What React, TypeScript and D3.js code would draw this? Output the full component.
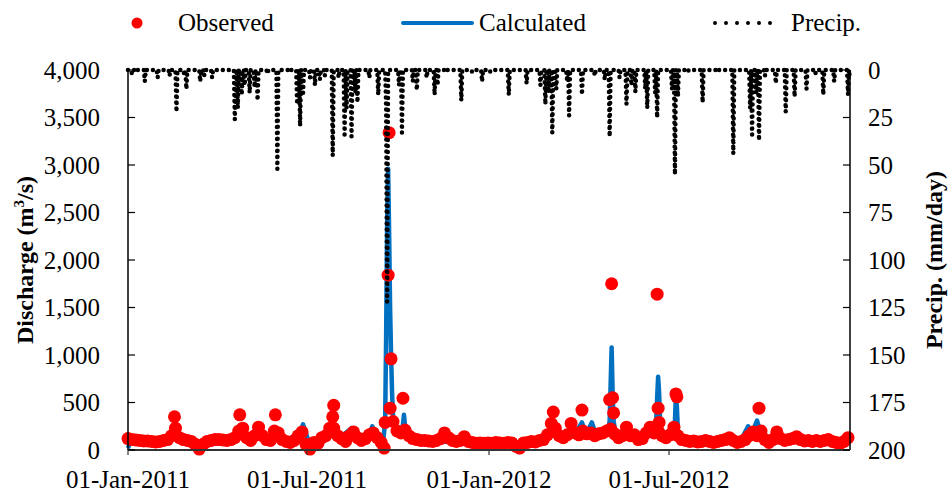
import React from "react";
import * as d3 from "d3";

const parse = d3.timeParse("%Y-%m-%d");

// daily precipitation events (mm/day); days not listed had no rain
const precipEvents: [string, number][] = [
  ["2011-01-05", 2], ["2011-01-10", 1], ["2011-01-18", 6], ["2011-01-31", 4],
  ["2011-02-12", 3], ["2011-02-19", 22], ["2011-02-27", 3], ["2011-03-01", 10],
  ["2011-03-15", 6], ["2011-03-19", 3], ["2011-03-27", 4], ["2011-04-19", 26],
  ["2011-04-22", 20], ["2011-04-26", 13], ["2011-04-29", 8], ["2011-05-04", 12],
  ["2011-05-09", 9], ["2011-05-12", 16], ["2011-05-22", 2], ["2011-06-01", 52],
  ["2011-06-14", 1], ["2011-06-21", 18], ["2011-06-24", 29.5], ["2011-06-27", 12],
  ["2011-07-04", 4], ["2011-07-09", 8], ["2011-07-14", 5], ["2011-07-19", 3],
  ["2011-07-27", 45], ["2011-08-02", 4], ["2011-08-08", 34], ["2011-08-10", 20],
  ["2011-08-15", 35], ["2011-08-19", 12], ["2011-08-21", 17], ["2011-09-02", 4],
  ["2011-09-11", 13], ["2011-09-19", 20], ["2011-09-20", 122], ["2011-10-02", 8],
  ["2011-10-05", 33], ["2011-10-16", 6], ["2011-10-20", 10.5], ["2011-10-30", 4],
  ["2011-11-07", 13], ["2011-11-10", 8], ["2011-11-19", 1], ["2011-12-04", 16],
  ["2011-12-15", 1], ["2011-12-25", 6], ["2012-01-02", 1], ["2012-01-21", 13],
  ["2012-02-08", 7], ["2012-02-22", 8], ["2012-02-27", 18], ["2012-03-01", 12],
  ["2012-03-05", 33], ["2012-03-09", 10], ["2012-03-20", 6], ["2012-03-22", 24],
  ["2012-04-04", 13], ["2012-04-17", 3], ["2012-04-27", 5], ["2012-05-02", 35],
  ["2012-05-12", 4], ["2012-05-19", 18], ["2012-05-24", 8], ["2012-05-28", 11.5],
  ["2012-06-07", 10], ["2012-06-09", 20], ["2012-06-17", 12], ["2012-06-19", 25],
  ["2012-07-04", 10], ["2012-07-07", 55], ["2012-07-10", 14], ["2012-07-20", 1],
  ["2012-08-04", 17], ["2012-08-18", 1], ["2012-09-04", 44], ["2012-09-21", 20],
  ["2012-09-23", 34], ["2012-09-27", 12], ["2012-09-30", 37], ["2012-10-06", 3],
  ["2012-10-17", 7], ["2012-10-27", 22], ["2012-11-05", 14], ["2012-11-17", 10],
  ["2012-11-26", 2], ["2012-12-04", 13], ["2012-12-15", 6], ["2012-12-29", 13],
  ["2012-12-31", 5],
];

// observed discharge (m3/s), sampled every 4 days from 01-Jan-2011
const obsStart = "2011-01-01";
const obsStepDays = 4;
const observedQ = [
  120, 110, 105, 100, 95, 95, 90, 85, 90, 100,
  110, 150, 230, 130, 110, 100, 90, 60, 10, 60,
  90, 100, 110, 110, 105, 100, 110, 130, 200, 230,
  130, 100, 150, 240, 150, 110, 100, 200, 180, 110,
  90, 80, 100, 150, 190, 60, 10, 80, 70, 130,
  150, 230, 230, 150, 120, 90, 150, 190, 130, 100,
  120, 160, 180, 130, 80, 290, 3340, 300, 200, 180,
  210, 150, 120, 110, 100, 100, 95, 90, 100, 120,
  180, 130, 100, 90, 100, 140, 90, 80, 70, 75,
  70, 75, 70, 80, 75, 70, 80, 75, 40, 20,
  75, 80, 90, 85, 100, 110, 160, 280, 230, 150,
  130, 160, 280, 180, 160, 200, 170, 180, 150, 170,
  180, 200, 220, 170, 130, 150, 240, 150, 160, 110,
  120, 180, 240, 180, 200, 150, 130, 160, 240, 150,
  110, 100, 90, 95, 85, 90, 100, 90, 80, 90,
  100, 110, 130, 100, 80, 90, 110, 150, 190, 150,
  200, 110, 80, 110, 190, 120, 100, 110, 120, 140,
  110, 95, 100, 90, 100, 90, 100, 110, 90, 80,
  70, 90, 130,
];

// extra observed values on flood days
const observedPeaks: [string, number][] = [
  ["2011-02-17", 350], ["2011-04-24", 370], ["2011-05-30", 370],
  ["2011-07-27", 350], ["2011-07-28", 470], ["2011-09-17", 20],
  ["2011-09-21", 1840], ["2011-09-23", 440], ["2011-09-24", 960],
  ["2011-10-06", 545], ["2012-03-06", 400], ["2012-04-04", 420],
  ["2012-05-02", 530], ["2012-05-04", 1750], ["2012-05-05", 550],
  ["2012-05-06", 390], ["2012-06-19", 1640], ["2012-06-20", 440],
  ["2012-06-21", 290], ["2012-07-08", 590], ["2012-07-09", 560],
  ["2012-09-30", 440],
];

// calculated discharge (m3/s)
const calculated: [string, number][] = [
  ["2011-01-01", 20], ["2011-01-04", 100], ["2011-01-20", 85], ["2011-02-10", 80],
  ["2011-02-19", 160], ["2011-02-25", 90], ["2011-03-20", 75], ["2011-04-15", 90],
  ["2011-04-21", 150], ["2011-04-24", 260], ["2011-04-28", 140], ["2011-05-12", 190],
  ["2011-05-18", 110], ["2011-05-27", 130], ["2011-05-31", 230], ["2011-06-05", 110],
  ["2011-06-22", 140], ["2011-06-27", 270], ["2011-07-02", 110], ["2011-07-15", 90],
  ["2011-07-28", 250], ["2011-08-03", 130], ["2011-08-15", 230], ["2011-08-20", 120],
  ["2011-09-01", 150], ["2011-09-05", 250], ["2011-09-10", 120], ["2011-09-16", 90],
  ["2011-09-18", 300], ["2011-09-19", 1200], ["2011-09-20", 2400], ["2011-09-21", 2960],
  ["2011-09-22", 2300], ["2011-09-23", 1500], ["2011-09-24", 1000], ["2011-09-25", 600],
  ["2011-09-26", 350], ["2011-09-28", 200], ["2011-10-03", 150], ["2011-10-05", 170],
  ["2011-10-07", 370], ["2011-10-09", 160], ["2011-10-20", 110], ["2011-11-10", 90],
  ["2011-12-10", 75], ["2012-01-15", 70], ["2012-02-15", 80], ["2012-03-02", 130],
  ["2012-03-06", 240], ["2012-03-10", 150], ["2012-03-28", 170], ["2012-04-04", 290],
  ["2012-04-08", 160], ["2012-04-14", 290], ["2012-04-18", 160], ["2012-04-30", 200],
  ["2012-05-02", 300], ["2012-05-03", 700], ["2012-05-04", 1080], ["2012-05-05", 600],
  ["2012-05-06", 300], ["2012-05-08", 180], ["2012-05-20", 170], ["2012-06-09", 180],
  ["2012-06-18", 300], ["2012-06-19", 550], ["2012-06-20", 770], ["2012-06-21", 600],
  ["2012-06-22", 300], ["2012-06-24", 150], ["2012-07-02", 150], ["2012-07-07", 300],
  ["2012-07-08", 600], ["2012-07-09", 450], ["2012-07-10", 200], ["2012-07-15", 110],
  ["2012-08-15", 90], ["2012-09-12", 110], ["2012-09-19", 250], ["2012-09-23", 180],
  ["2012-09-28", 310], ["2012-10-03", 130], ["2012-11-01", 100], ["2012-12-31", 90],
];

const xTickDates = ["2011-01-01", "2011-07-01", "2012-01-01", "2012-07-01"];
const qTicks = [0, 500, 1000, 1500, 2000, 2500, 3000, 3500, 4000];
const pTicks = [0, 25, 50, 75, 100, 125, 150, 175, 200];

const FONT = '"Liberation Serif", "Times New Roman", "DejaVu Serif", serif';
const RED = "#FF0000";
const BLUE = "#0070C0";

export default function App() {
  const left = 128, right = 850, top = 70, bottom = 450;

  const x = d3
    .scaleTime()
    .domain([parse("2011-01-01")!, parse("2012-12-31")!])
    .range([left, right]);
  const yQ = d3.scaleLinear().domain([0, 4000]).range([bottom, top]);
  const yP = d3.scaleLinear().domain([0, 200]).range([top, bottom]);

  // daily precip series
  const rain = new Map(precipEvents.map(([d, v]) => [d, v]));
  const fmt = d3.timeFormat("%Y-%m-%d");
  const allDays = d3.timeDay.range(parse("2011-01-01")!, d3.timeDay.offset(parse("2012-12-31")!, 1));
  const precip = allDays.map((d) => ({ date: d, v: rain.get(fmt(d)) ?? 0 }));

  const obs = [
    ...observedQ.map((v, i) => ({ date: d3.timeDay.offset(parse(obsStart)!, i * obsStepDays), v })),
    ...observedPeaks.map(([d, v]) => ({ date: parse(d)!, v })),
  ];

  const calc = calculated.map(([d, v]) => ({ date: parse(d)!, v }));

  const precipLine = d3
    .line<{ date: Date; v: number }>()
    .x((d) => x(d.date))
    .y((d) => yP(d.v));
  const calcLine = d3
    .line<{ date: Date; v: number }>()
    .x((d) => x(d.date))
    .y((d) => yQ(d.v));

  const tickFmt = d3.format(",");
  const dateFmt = d3.timeFormat("%d-%b-%Y");

  return (
    <svg
      width={949}
      height={493}
      style={{ position: "absolute", left: 0, top: 0, background: "#fff", fontFamily: FONT }}
    >
      {/* legend */}
      <g fontSize={25} fill="#000">
        <circle cx={137} cy={23} r={5.5} fill={RED} />
        <text x={178} y={31}>Observed</text>
        <line x1={403} x2={472} y1={23} y2={23} stroke={BLUE} strokeWidth={4} strokeLinecap="round" />
        <text x={479} y={31}>Calculated</text>
        <line x1={715} x2={781} y1={23} y2={23} stroke="#000" strokeWidth={4}
          strokeDasharray="0 11" strokeLinecap="round" />
        <text x={791} y={31}>Precip.</text>
      </g>

      {/* calculated */}
      <path d={calcLine(calc)!} fill="none" stroke={BLUE} strokeWidth={4.5} strokeLinejoin="round" />

      {/* observed */}
      {obs.map((d, i) => (
        <circle key={i} cx={x(d.date)} cy={yQ(d.v)} r={6.5} fill={RED} />
      ))}

      {/* precip */}
      <path d={precipLine(precip)!} fill="none" stroke="#000" strokeWidth={4.5}
        strokeDasharray="0 6" strokeLinecap="round" strokeLinejoin="round" />

      {/* axes */}
      <line x1={left} x2={left} y1={top} y2={bottom} stroke="#000" strokeWidth={1.5} />
      <line x1={right} x2={right} y1={top} y2={bottom} stroke="#000" strokeWidth={1.5} />
      <line x1={left} x2={right} y1={bottom} y2={bottom} stroke="#333" strokeWidth={2} />

      <g fontSize={25} fill="#000">
        {qTicks.map((t) => (
          <g key={"q" + t}>
            <line x1={left} x2={left + 7} y1={yQ(t)} y2={yQ(t)} stroke="#000" strokeWidth={1.2} />
            <text x={100} y={yQ(t)} textAnchor="end" dominantBaseline="central">{tickFmt(t)}</text>
          </g>
        ))}
        {pTicks.map((t) => (
          <g key={"p" + t}>
            <line x1={right - 7} x2={right} y1={yP(t)} y2={yP(t)} stroke="#000" strokeWidth={1.2} />
            <text x={868} y={yP(t)} dominantBaseline="central">{t}</text>
          </g>
        ))}
        {xTickDates.map((s) => {
          const d = parse(s)!;
          return (
            <g key={s}>
              <line x1={x(d)} x2={x(d)} y1={bottom} y2={bottom + 5} stroke="#333" strokeWidth={1.2} />
              <text x={x(d)} y={488} textAnchor="middle">{dateFmt(d)}</text>
            </g>
          );
        })}
      </g>

      {/* axis titles */}
      <text transform="translate(33,260) rotate(-90)" textAnchor="middle" fontSize={24} fontWeight="bold">
        Discharge (m<tspan dy={-9} fontSize={15}>3</tspan><tspan dy={9}>/s)</tspan>
      </text>
      <text transform="translate(942,260) rotate(-90)" textAnchor="middle" fontSize={24} fontWeight="bold">
        Precip. (mm/day)
      </text>
    </svg>
  );
}
